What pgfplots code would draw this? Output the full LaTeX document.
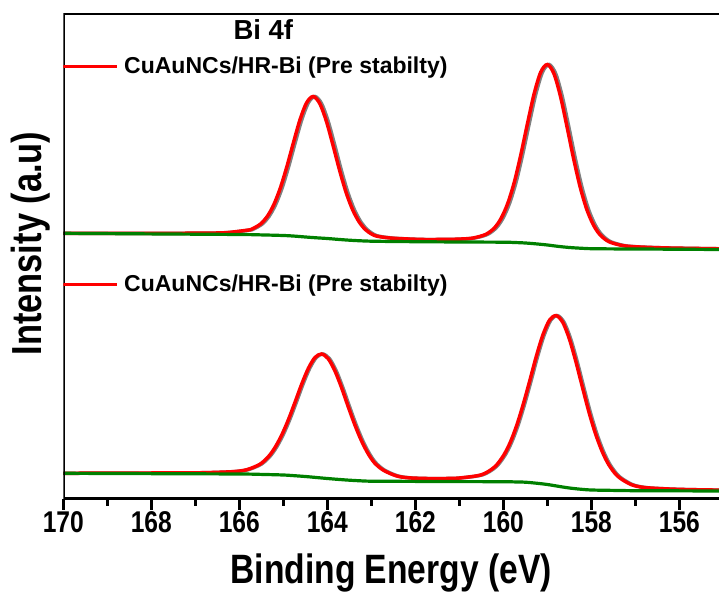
\documentclass[border=0pt]{standalone}
\usepackage{fontspec}
\setmainfont{Liberation Sans}
\newfontfamily\narrowfont[FakeStretch=0.82]{Liberation Sans}
\usepackage{pgfplots}
\usepackage{pgfplotstable}
\pgfplotsset{compat=1.18}

\pgfplotstableread{
x y
170 265.7
168 265.7
167 265.8
166.32 266.3
165.82 268.8
165.72 269.8
165.52 274.9
165.37 282.2
165.22 293.9
165.07 310.7
164.92 332.2
164.77 356.3
164.62 379.4
164.47 396.3
164.32 402.5
164.17 395.4
164.02 377.6
163.87 353.6
163.72 328.5
163.57 306.1
163.42 288.8
163.27 276.6
163.12 268.9
162.92 263.4
162.62 261.2
162.32 260.3
161.82 259.5
161.3 259.6
161.0 259.9
160.7 260.9
160.4 264.6
160.2 271.2
160.05 280.7
159.9 295.6
159.75 317.0
159.6 344.8
159.45 375.8
159.3 405.3
159.15 426.9
159.0 434.5
158.85 425.3
158.7 402.3
158.55 371.5
158.4 339.6
158.25 311.2
158.1 289.1
157.95 273.8
157.8 264.1
157.6 257.3
157.3 253.5
157.0 252.2
156.5 251.3
156.0 250.8
155.1 250.2
}\topfit

\pgfplotstableread{
x y
170 265.7
168 265.1
166 264.5
165.5 264.1
165 263.5
164.75 262.9
164.5 262
164.25 261.2
164 260.5
163.75 259.6
163.5 258.8
163.25 258.2
163 257.8
162.5 257.5
162 257.3
161 257.0
160 256.8
159.75 256.5
159.5 256
159.25 255.1
159 254
158.75 252.6
158.5 251.5
158.25 250.8
158 250.3
157.5 250.1
157 250
156 249.75
155.1 249.5
}\topbg

\pgfplotstableread{
x y
170 25.7
168 26.0
167 26.2
166.63 26.5
166.13 27.4
165.83 29.3
165.53 34.8
165.33 42.8
165.18 52.1
165.03 64.5
164.88 79.8
164.73 97.2
164.58 115.1
164.43 130.7
164.28 141.5
164.13 145.0
163.98 140.3
163.83 128.4
163.68 111.8
163.53 92.9
163.38 74.8
163.23 58.8
163.08 45.9
162.93 36.3
162.73 28.9
162.43 23.1
162.13 21.1
161.63 20.4
161.3 20.5
161.0 21.0
160.5 24.2
160.2 32.0
160.0 43.2
159.85 55.9
159.7 73.1
159.55 94.4
159.4 118.2
159.25 142.8
159.1 164.2
158.95 178.9
158.8 183.4
158.65 176.7
158.5 160.1
158.35 137.1
158.2 111.3
158.05 86.2
157.9 64.5
157.75 47.1
157.6 34.0
157.4 22.7
157.1 14.5
156.8 11.5
156.3 10.1
155.8 9.4
155.1 8.9
}\botfit

\pgfplotstableread{
x y
170 25.7
168 25.35
166 25
165.5 24.6
165 24
164.75 23.3
164.5 22.5
164.25 21.5
164 20.5
163.75 19.6
163.5 18.8
163.25 18.2
163 17.8
162 17.6
161 17.4
160 17.3
159.75 17.1
159.5 16.8
159.25 15.8
159 14.5
158.75 12.7
158.5 11
158.25 9.8
158 9
157.5 8.6
157 8.3
156 8.15
155.1 8
}\botbg

\definecolor{fitred}{RGB}{255,0,0}
\definecolor{rawgrey}{RGB}{128,128,128}
\definecolor{bggreen}{RGB}{0,128,0}

\begin{document}
\begin{tikzpicture}
\begin{axis}[
  scale only axis,
  width=655.7bp, height=485.7bp,
  x dir=reverse,
  xmin=155.1, xmax=170, ymin=0, ymax=485.7,
  axis x line*=bottom, axis y line*=left,
  axis line style={draw=none},
  ytick=\empty,
  xtick={156,158,...,170},
  minor xtick={157,159,...,169},
  tick align=outside,
  major tick length=10.5bp, minor tick length=6.5bp,
  tick style={black, line width=3.2bp},
  /pgf/number format/assume math mode=true,
  xticklabel style={font=\narrowfont\bfseries\fontsize{30bp}{32bp}\selectfont, yshift=1bp},
  xlabel={Binding Energy (eV)},
  xlabel style={font=\narrowfont\bfseries\fontsize{41bp}{43bp}\selectfont,
    at={([yshift=-84bp]axis description cs:0.5,0)}, anchor=base},
  ylabel={Intensity (a.u)},
  ylabel style={font=\narrowfont\bfseries\fontsize{42bp}{44bp}\selectfont,
    at={([xshift=-21.6bp]axis description cs:0,0.526)}, anchor=base, rotate=0},
]
\addplot[rawgrey, line width=3.5bp, smooth] table[x expr=\thisrow{x}-0.04, y=y] {\topfit};
\addplot[fitred, line width=3.5bp, smooth] table[x=x, y=y] {\topfit};
\addplot[bggreen, line width=3.2bp, smooth] table[x=x, y=y] {\topbg};
\addplot[rawgrey, line width=3.5bp, smooth] table[x expr=\thisrow{x}-0.03, y=y] {\botfit};
\addplot[fitred, line width=3.5bp, smooth] table[x=x, y=y] {\botfit};
\addplot[bggreen, line width=3.2bp, smooth] table[x=x, y=y] {\botbg};

\draw[black, line width=3.3bp] (rel axis cs:1,0) -- (rel axis cs:0,0) -- (rel axis cs:0,1) -- (rel axis cs:1,1);
\foreach \t in {156,158,...,170} {
  \edef\temp{\noexpand\draw[black, line width=3.2bp] (axis cs:\t,0) -- ([yshift=-10.5bp]axis cs:\t,0);}\temp
}
\foreach \t in {157,159,...,169} {
  \edef\temp{\noexpand\draw[black, line width=3.2bp] (axis cs:\t,0) -- ([yshift=-6.5bp]axis cs:\t,0);}\temp
}

\node[anchor=base west, inner sep=0pt, font=\bfseries\fontsize{27.5bp}{29bp}\selectfont] at (axis cs:166.136,459.5) {Bi 4f};
\draw[fitred, line width=3.5bp] (axis cs:170,432.3) -- (axis cs:168.786,432.3);
\node[anchor=base west, inner sep=0pt, font=\bfseries\fontsize{23bp}{25bp}\selectfont] at (axis cs:168.62,425.7) {CuAuNCs/HR-Bi (Pre stabilty)};
\draw[fitred, line width=3.5bp] (axis cs:170,214.7) -- (axis cs:168.786,214.7);
\node[anchor=base west, inner sep=0pt, font=\bfseries\fontsize{23bp}{25bp}\selectfont] at (axis cs:168.62,207.5) {CuAuNCs/HR-Bi (Pre stabilty)};

\coordinate (ll) at (rel axis cs:0,0);
\coordinate (ur) at (rel axis cs:1,1);
\end{axis}
\pgfresetboundingbox
\path[use as bounding box] ([shift={(-63.3bp,-95bp)}]ll) rectangle ([shift={(0bp,13.3bp)}]ur);
\end{tikzpicture}
\end{document}
